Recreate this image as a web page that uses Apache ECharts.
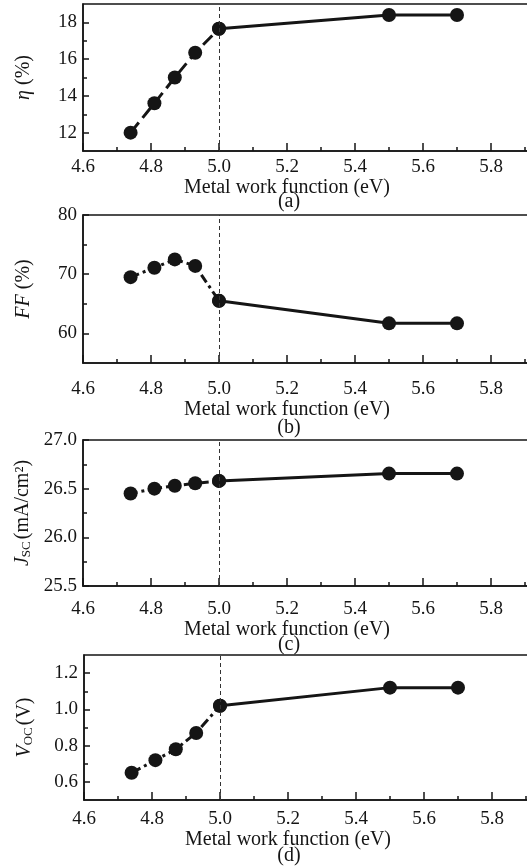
<!DOCTYPE html>
<html>
<head>
<meta charset="utf-8">
<script src="https://cdn.jsdelivr.net/npm/echarts@6/dist/echarts.min.js"></script>
<style>
  html, body { margin: 0; padding: 0; background: #fff; font-family: "Liberation Serif", serif; }
  #chart { width: 527px; height: 868px; }
</style>
</head>
<body>
<div id="chart"></div>
<script>
// Metal work function (eV) of each contact
const workFunction = [4.74, 4.81, 4.87, 4.93, 5.0, 5.5, 5.7];

// Device parameters for each work function
const efficiency = [12.0, 13.6, 15.0, 16.35, 17.65, 18.4, 18.4];
const fillFactor = [69.5, 71.1, 72.5, 71.4, 65.5, 61.7, 61.7];
const jsc = [26.45, 26.50, 26.53, 26.555, 26.58, 26.655, 26.655];
const voc = [0.65, 0.72, 0.78, 0.87, 1.02, 1.12, 1.12];

// Work function where the dashed reference line sits
const thresholdWF = 5.0;

// Axis tick values
const xMajorTicks = [4.6, 4.8, 5.0, 5.2, 5.4, 5.6, 5.8];
const xMinorTicks = [4.7, 4.9, 5.1, 5.3, 5.5, 5.7, 5.9];
const etaTicks = [12, 14, 16, 18];
const etaMinorTicks = [13, 15, 17];
const ffTicks = [60, 70, 80];
const ffMinorTicks = [65, 75];
const jscTicks = [25.5, 26.0, 26.5, 27.0];
const jscMinorTicks = [25.75, 26.25, 26.75];
const vocTicks = [0.6, 0.8, 1.0, 1.2];
const vocMinorTicks = [0.7, 0.9, 1.1];

const xTitle = 'Metal work function (eV)';
const captions = ['(a)', '(b)', '(c)', '(d)'];

const FONT = 'Liberation Serif';
const INK = '#151515';

const panels = [
  { values: efficiency, min: 11, max: 19, ticks: etaTicks, minor: etaMinorTicks, fmt: v => String(v),
    name: '{i|η} (%)', top: 4, height: 147, left: 83, labelMargin: 7, nameGap: 25, captionY: 202,
    dash: [13, 6] },
  { values: fillFactor, min: 55, max: 80, ticks: ffTicks, minor: ffMinorTicks, fmt: v => String(v),
    name: '{i|FF} (%)', top: 215, height: 148, left: 83, labelMargin: 17, nameGap: 35, captionY: 428,
    dash: [9, 4, 3, 4] },
  { values: jsc, min: 25.5, max: 27.0, ticks: jscTicks, minor: jscMinorTicks, fmt: v => v.toFixed(1),
    name: '{i|J}{sub|SC}(mA/cm²)', top: 440, height: 146, left: 83, labelMargin: 14, nameGap: 32, captionY: 645,
    dash: [7, 4, 3, 4] },
  { values: voc, min: 0.5, max: 1.3, ticks: vocTicks, minor: vocMinorTicks, fmt: v => v.toFixed(1),
    name: '{i|V}{sub|OC}(V)', top: 655, height: 145, left: 84, labelMargin: 10, nameGap: 26, captionY: 856,
    dash: [10, 4, 3, 4] }
];

function buildOption() {
  const grid = [], xAxis = [], yAxis = [], series = [], graphic = [];

  panels.forEach((p, i) => {
    grid.push({
      left: p.left, top: p.top, width: 476, height: p.height,
      outerBoundsMode: 'none', containLabel: false,
      show: true, borderColor: INK, borderWidth: 1.5, backgroundColor: 'transparent'
    });

    // main x axis: line, labels, major ticks, title
    xAxis.push({
      type: 'value', gridIndex: i, position: 'bottom', min: 4.6, max: 6.0,
      axisLine: { show: true, onZero: false, lineStyle: { color: INK, width: 1.5 } },
      axisTick: { show: true, inside: true, length: 8, customValues: xMajorTicks, lineStyle: { color: INK, width: 1.5 } },
      axisLabel: { show: true, customValues: xMajorTicks, formatter: v => v.toFixed(1),
        margin: p.labelMargin, color: INK, fontFamily: FONT, fontSize: 19 },
      splitLine: { show: false },
      name: xTitle, nameLocation: 'middle', nameGap: p.nameGap,
      nameTextStyle: { color: INK, fontFamily: FONT, fontSize: 20, padding: [0, 68, 0, 0] }
    });
    // companion x axis carrying the minor ticks
    xAxis.push({
      type: 'value', gridIndex: i, position: 'bottom', min: 4.6, max: 6.0,
      axisLine: { show: false, onZero: false },
      axisTick: { show: true, inside: true, length: 4, customValues: xMinorTicks, lineStyle: { color: INK, width: 1.5 } },
      axisLabel: { show: false },
      splitLine: { show: false }
    });

    yAxis.push({
      type: 'value', gridIndex: i, position: 'left', min: p.min, max: p.max,
      axisLine: { show: true, onZero: false, lineStyle: { color: INK, width: 1.5 } },
      axisTick: { show: true, inside: true, length: 6, customValues: p.ticks, lineStyle: { color: INK, width: 1.5 } },
      axisLabel: { show: true, customValues: p.ticks, formatter: p.fmt, margin: 6,
        color: INK, fontFamily: FONT, fontSize: 19 },
      splitLine: { show: false },
      name: p.name, nameLocation: 'middle', nameGap: 49,
      nameTextStyle: {
        color: INK, fontFamily: FONT, fontSize: 20,
        rich: {
          i: { fontStyle: 'italic', fontFamily: FONT, fontSize: 20, color: INK },
          sub: { fontFamily: FONT, fontSize: 13, color: INK, verticalAlign: 'bottom', padding: [8, 2, 0, 0] }
        }
      }
    });
    // companion y axis carrying the minor ticks
    yAxis.push({
      type: 'value', gridIndex: i, position: 'left', min: p.min, max: p.max,
      axisLine: { show: false, onZero: false },
      axisTick: { show: true, inside: true, length: 4, customValues: p.minor, lineStyle: { color: INK, width: 1.5 } },
      axisLabel: { show: false },
      splitLine: { show: false }
    });

    const pts = workFunction.map((x, k) => [x, p.values[k]]);
    const marker = { symbol: 'circle', symbolSize: 14, itemStyle: { color: INK } };

    // low work-function branch, broken line
    series.push(Object.assign({
      type: 'line', xAxisIndex: i * 2, yAxisIndex: i * 2,
      data: pts.slice(0, 5),
      lineStyle: { color: INK, width: 3, type: p.dash },
      animation: false,
      markLine: {
        silent: true, symbol: ['none', 'none'], label: { show: false },
        lineStyle: { color: '#333', width: 1, type: [4, 3] },
        data: [{ xAxis: thresholdWF }]
      }
    }, marker));
    // high work-function branch, solid line
    series.push(Object.assign({
      type: 'line', xAxisIndex: i * 2, yAxisIndex: i * 2,
      data: pts.slice(4),
      lineStyle: { color: INK, width: 3, type: 'solid' },
      animation: false
    }, marker));

    graphic.push({
      type: 'text', x: 289, y: p.captionY, z: 10,
      style: { text: captions[i], fill: INK, fontFamily: FONT, fontSize: 20, textAlign: 'center', textVerticalAlign: 'middle' }
    });
  });

  return { backgroundColor: '#fff', animation: false, textStyle: { fontFamily: FONT }, grid, xAxis, yAxis, series, graphic };
}

const chart = echarts.init(document.getElementById('chart'), null, { renderer: 'canvas' });
chart.setOption(buildOption());
// redraw once the serif face is confirmed available
if (document.fonts && document.fonts.load) {
  document.fonts.load('20px "Liberation Serif"').then(() => {
    chart.clear();
    chart.setOption(buildOption());
  });
}
</script>
</body>
</html>
